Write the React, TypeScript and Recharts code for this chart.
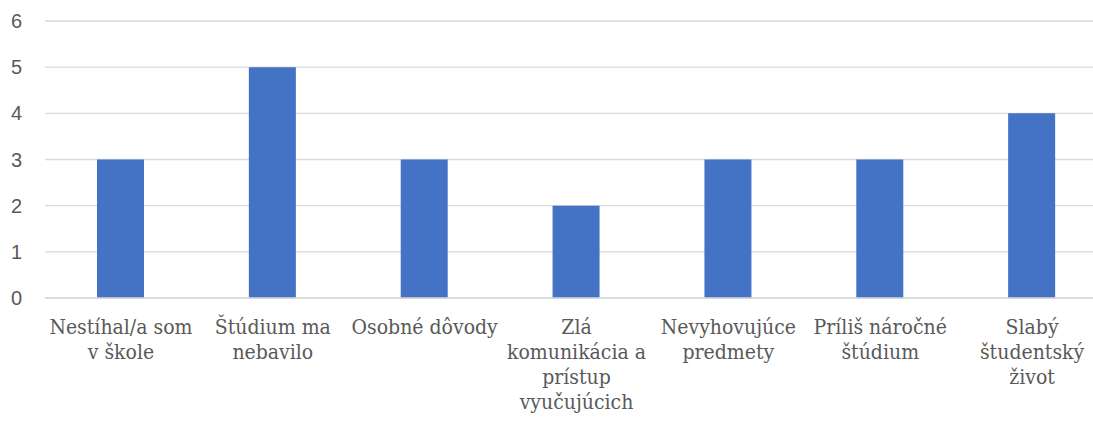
import React from 'react';
import { BarChart, Bar, XAxis, YAxis, CartesianGrid } from 'recharts';

const categories = [
  'Nestíhal/a som v škole',
  'Štúdium ma nebavilo',
  'Osobné dôvody',
  'Zlá komunikácia a prístup vyučujúcich',
  'Nevyhovujúce predmety',
  'Príliš náročné štúdium',
  'Slabý študentský život',
];

// how the labels wrap in the original
const tickLines = [
  ['Nestíhal/a som', 'v škole'],
  ['Štúdium ma', 'nebavilo'],
  ['Osobné dôvody'],
  ['Zlá', 'komunikácia a', 'prístup', 'vyučujúcich'],
  ['Nevyhovujúce', 'predmety'],
  ['Príliš náročné', 'štúdium'],
  ['Slabý', 'študentský', 'život'],
];

const counts = [3, 5, 3, 2, 3, 3, 4];

const yTicks = [0, 1, 2, 3, 4, 5, 6];

const data = categories.map((name, i) => ({ name, count: counts[i] }));

const CategoryTick: React.FC<any> = ({ x, y, payload }) => {
  const lines = tickLines[payload.index] ?? [payload.value];
  return (
    <g transform={`translate(${x},${y + 28})`}>
      {lines.map((line, i) => (
        <text
          key={i}
          x={0}
          y={i * 25}
          textAnchor="middle"
          fill="#595959"
          fontSize={21}
          style={{ fontFamily: "'DejaVu Serif Condensed', 'DejaVu Serif', serif", fontStretch: 'condensed' }}
        >
          {line}
        </text>
      ))}
    </g>
  );
};

const App: React.FC = () => {
  return (
    <div
      style={{
        position: 'absolute',
        left: 0,
        top: 0,
        width: 1093,
        height: 421,
        overflow: 'hidden',
        background: '#fff',
      }}
    >
      <BarChart
        width={1108}
        height={421}
        data={data}
        margin={{ top: 21, right: 0, left: 0, bottom: 0 }}
        barSize={47}
      >
        <CartesianGrid vertical={false} stroke="#D9D9D9" strokeWidth={1.3} />
        <XAxis
          dataKey="name"
          interval={0}
          height={123}
          tickLine={false}
          axisLine={{ stroke: '#D9D9D9', strokeWidth: 1.3 }}
          tick={<CategoryTick />}
        />
        <YAxis
          width={45}
          domain={[0, 6]}
          ticks={yTicks}
          axisLine={false}
          tickLine={false}
          tickMargin={17}
          tick={{ fill: '#595959', fontSize: 20, fontFamily: "'Liberation Sans', Arial, sans-serif" }}
        />
        <Bar dataKey="count" fill="#4472C4" isAnimationActive={false} />
      </BarChart>
    </div>
  );
};

export default App;
